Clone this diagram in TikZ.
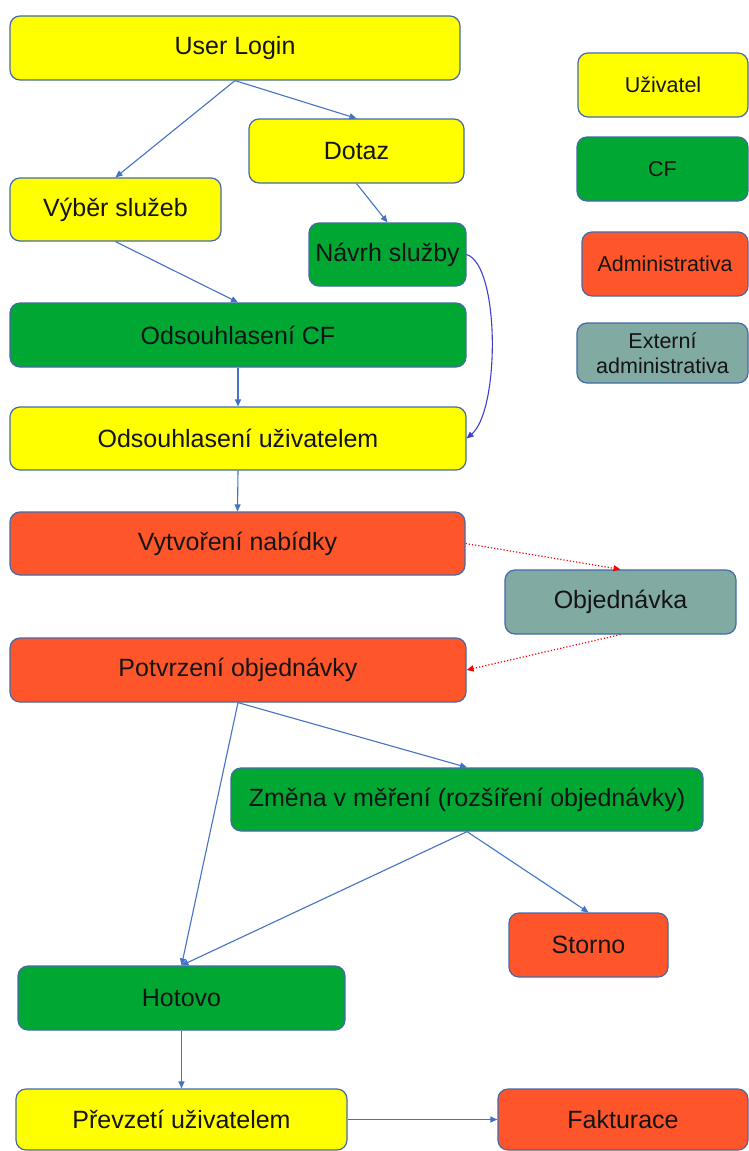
\documentclass[tikz,border=0pt]{standalone}
\usepackage{fontspec}
\setmainfont{Liberation Sans}
\usetikzlibrary{arrows.meta}
\definecolor{cyel}{RGB}{255,255,0}
\definecolor{cgrn}{RGB}{0,168,51}
\definecolor{cred}{RGB}{255,85,42}
\definecolor{cext}{RGB}{128,170,162}
\definecolor{cbord}{RGB}{68,106,170}
\definecolor{carr}{RGB}{68,114,196}
\definecolor{ccurve}{RGB}{64,64,208}
\definecolor{ctext}{RGB}{20,20,20}
\begin{document}
\begin{tikzpicture}[x=1pt,y=-1pt,
  box/.style={draw=cbord,line width=1.2pt,rounded corners=10pt,inner sep=0pt,
    text=ctext,font=\fontsize{25}{29}\selectfont},
  legbox/.style={box,font=\fontsize{21.5}{25}\selectfont,align=center},
  yel/.style={fill=cyel},
  grn/.style={fill=cgrn},
  rdb/.style={fill=cred},
  ext/.style={fill=cext},
  conn/.style={draw=carr,line width=1.1pt,-{Triangle[length=7pt,width=6pt]}},
  dconn/.style={draw=red,line width=1.2pt,dotted,-{Triangle[length=7pt,width=6pt]}},
  cconn/.style={draw=ccurve,line width=1.1pt,-{Triangle[length=7pt,width=6pt]}}]
\useasboundingbox[fill=white] (0,0) rectangle (749,1151);

\node[box,yel,minimum width=450pt,minimum height=64pt] (login) at (235,48) {User Login};
\node[box,yel,minimum width=215pt,minimum height=64pt] (dotaz) at (356.5,151) {Dotaz};
\node[box,yel,minimum width=211pt,minimum height=63pt] (vyber) at (115.5,209.5) {Výběr služeb};
\node[box,grn,minimum width=157pt,minimum height=63pt] (navrh) at (387.5,254.5) {Návrh služby};
\node[box,grn,minimum width=456pt,minimum height=64pt] (odscf) at (238,335) {Odsouhlasení CF};
\node[box,yel,minimum width=456pt,minimum height=63pt] (odsu) at (238,438.5) {Odsouhlasení uživatelem};
\node[box,rdb,minimum width=455pt,minimum height=63pt] (vytv) at (237.5,543.5) {Vytvoření nabídky};
\node[box,ext,minimum width=231pt,minimum height=64pt] (objed) at (620.5,602) {Objednávka};
\node[box,rdb,minimum width=456pt,minimum height=64pt] (potv) at (238,670) {Potvrzení objednávky};
\node[box,grn,minimum width=472pt,minimum height=63pt] (zmena) at (467,799.5) {Změna v měření (rozšíření objednávky)};
\node[box,rdb,minimum width=159pt,minimum height=64pt] (storno) at (588.5,945) {Storno};
\node[box,grn,minimum width=327pt,minimum height=64pt] (hotovo) at (181.5,998) {Hotovo};
\node[box,yel,minimum width=331pt,minimum height=61pt] (prevz) at (181.5,1119.5) {Převzetí uživatelem};
\node[box,rdb,minimum width=250pt,minimum height=61pt] (faktur) at (623,1119.5) {Fakturace};

\node[legbox,yel,minimum width=170pt,minimum height=64pt] (leg1) at (663,85) {Uživatel};
\node[legbox,grn,minimum width=171pt,minimum height=64pt] (leg2) at (662.5,169) {CF};
\node[legbox,rdb,minimum width=166pt,minimum height=64pt] (leg3) at (665,264) {Administrativa};
\node[legbox,ext,minimum width=171pt,minimum height=60pt] (leg4) at (662.5,353) {Externí\\administrativa};

\draw[conn] (login.south) -- (vyber.north);
\draw[conn] (login.south) -- (dotaz.north);
\draw[conn] (dotaz.south) -- (navrh.north);
\draw[conn] (vyber.south) -- (odscf.north);
\draw[conn] (odscf.south) -- (odsu.north);
\draw[cconn] (navrh.east) .. controls (500,265) and (500,410) .. (odsu.east);
\draw[conn] (odsu.south) -- (vytv.north);
\draw[dconn] (vytv.east) -- (objed.north);
\draw[dconn] (objed.south) -- (potv.east);
\draw[conn] (potv.south) -- (zmena.north);
\draw[conn] (potv.south) -- (hotovo.north);
\draw[conn] (zmena.south) -- (hotovo.north);
\draw[conn] (zmena.south) -- (storno.north);
\draw[conn] (hotovo.south) -- (prevz.north);
\draw[conn] (prevz.east) -- (faktur.west);
\end{tikzpicture}
\end{document}
